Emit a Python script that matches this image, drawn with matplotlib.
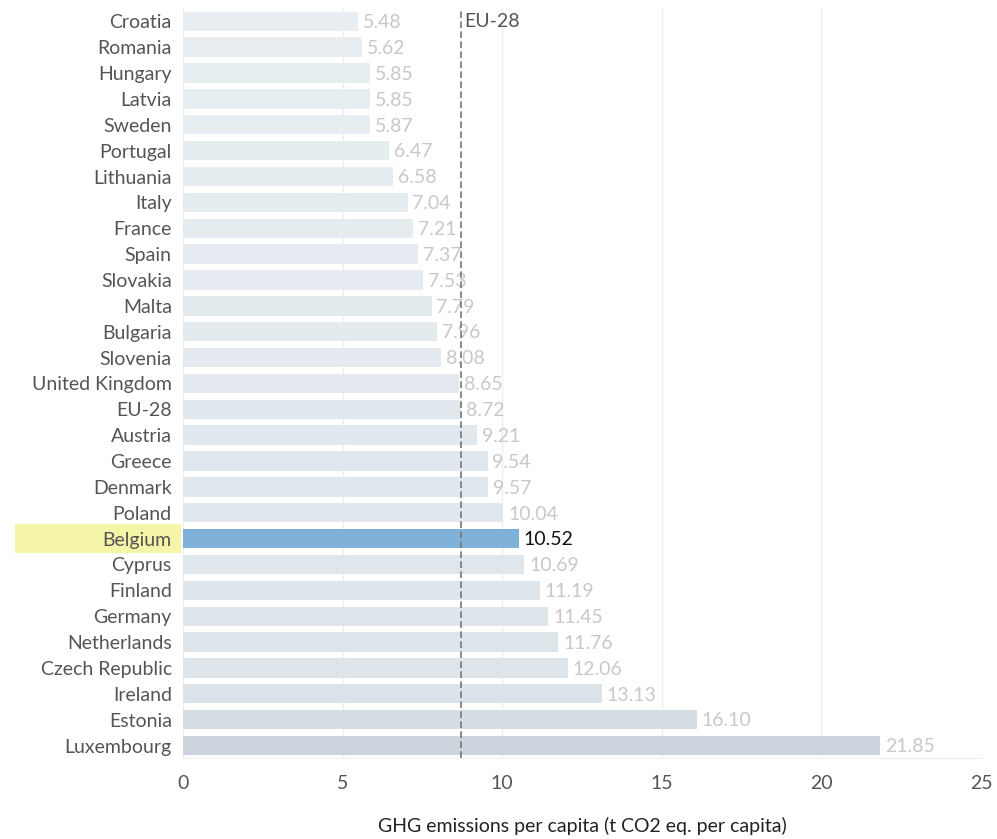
import matplotlib.pyplot as plt
import matplotlib.transforms as mtransforms
from matplotlib.patches import Rectangle
import numpy as np

plt.rcParams['font.family'] = ['Lato', 'DejaVu Sans']

countries = ["Croatia", "Romania", "Hungary", "Latvia", "Sweden", "Portugal", "Lithuania",
             "Italy", "France", "Spain", "Slovakia", "Malta", "Bulgaria", "Slovenia",
             "United Kingdom", "EU-28", "Austria", "Greece", "Denmark", "Poland", "Belgium",
             "Cyprus", "Finland", "Germany", "Netherlands", "Czech Republic", "Ireland",
             "Estonia", "Luxembourg"]
values = [5.48, 5.62, 5.85, 5.85, 5.87, 6.47, 6.58, 7.04, 7.21, 7.37, 7.53, 7.79, 7.96,
          8.08, 8.65, 8.72, 9.21, 9.54, 9.57, 10.04, 10.52, 10.69, 11.19, 11.45, 11.76,
          12.06, 13.13, 16.10, 21.85]
eu_avg = 8.72
highlight = "Belgium"

fig = plt.figure(figsize=(9.97, 8.39), dpi=100)
ax = fig.add_axes([0.1835, 0.096, 0.8005, 0.894])

y = np.arange(len(countries))
light = np.array([0.91, 0.935, 0.95])
dark = np.array([0.80, 0.835, 0.87])
colors = []
for v, c in zip(values, countries):
    if c == highlight:
        colors.append("#80b1d8")
    else:
        t = (v - min(values)) / (max(values) - min(values))
        colors.append(tuple(light + (dark - light) * t))

ax.barh(y, values, height=0.75, color=colors, zorder=2)
for yi, v, c in zip(y, values, countries):
    ax.text(v + 0.15, yi + 0.05, f"{v:.2f}", va="center", ha="left", fontsize=14,
            color="#111111" if c == highlight else "#c8c8c8", zorder=3)

ax.axvline(eu_avg, color="#777777", linestyle=(0, (4, 2)), linewidth=1.2, zorder=4)
ax.text(eu_avg + 0.1, 0, "EU-28", va="center", ha="left", fontsize=14, color="#555555")

ax.set_ylim(len(countries) - 0.5, -0.5)
ax.set_xlim(0, 25)
ax.set_yticks(y)
ax.set_yticklabels(countries, fontsize=14, color="#555555")

# yellow band behind the highlighted label
hi = countries.index(highlight)
trans = mtransforms.blended_transform_factory(ax.transAxes, ax.transData)
ax.add_patch(Rectangle((-0.211, hi - 0.55), 0.209, 1.1, transform=trans,
                       facecolor="#f5f5a8", edgecolor="none", clip_on=False, zorder=0))

ax.set_xticks([0, 5, 10, 15, 20, 25])
ax.tick_params(axis="x", labelsize=14, colors="#555555", length=0, pad=12)
ax.tick_params(axis="y", length=0, pad=8)
ax.grid(axis="x", color="#eeeeee", linewidth=1, zorder=0)
for s in ["top", "right", "left"]:
    ax.spines[s].set_visible(False)
ax.spines["bottom"].set_color("#eeeeee")
ax.set_xlabel("GHG emissions per capita (t CO2 eq. per capita)", fontsize=14,
              color="#222222", labelpad=18)

fig.savefig("out.png", dpi=100)
